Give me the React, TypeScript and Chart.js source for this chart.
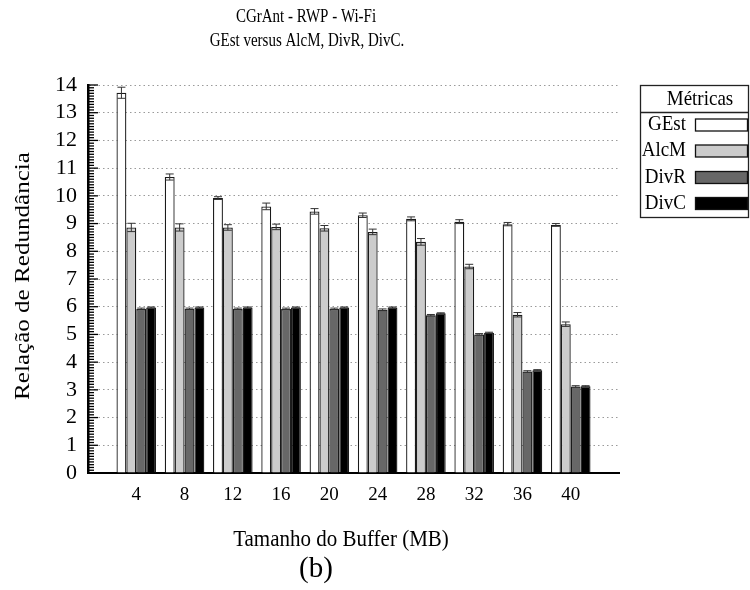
import { useEffect, useRef } from 'react';
import { Chart, registerables } from 'chart.js';

Chart.register(...registerables);

// Buffer sizes (MB) on the x axis
const bufferSizes = [4, 8, 12, 16, 20, 24, 28, 32, 36, 40];

// Mean redundancy ratio per metric, with half-width of the error bar
const gestValues = [13.72, 10.68, 9.92, 9.62, 9.44, 9.3, 9.17, 9.07, 8.98, 8.95];
const gestErrors = [0.2, 0.11, 0.05, 0.12, 0.1, 0.08, 0.07, 0.07, 0.06, 0.05];
const alcmValues = [8.86, 8.86, 8.86, 8.88, 8.83, 8.7, 8.34, 7.45, 5.71, 5.37];
const alcmErrors = [0.15, 0.13, 0.1, 0.1, 0.1, 0.1, 0.12, 0.08, 0.08, 0.08];
const divrValues = [5.92, 5.92, 5.92, 5.92, 5.92, 5.89, 5.69, 5.0, 3.66, 3.12];
const divrErrors = [0.03, 0.03, 0.03, 0.03, 0.03, 0.03, 0.03, 0.03, 0.03, 0.03];
const divcValues = [5.97, 5.97, 5.97, 5.97, 5.97, 5.97, 5.76, 5.06, 3.71, 3.13];
const divcErrors = [0.02, 0.02, 0.02, 0.02, 0.02, 0.02, 0.02, 0.02, 0.02, 0.02];

const yTickValues = [0, 1, 2, 3, 4, 5, 6, 7, 8, 9, 10, 11, 12, 13, 14];

const titleLines = ['CGrAnt - RWP - Wi-Fi', 'GEst versus AlcM, DivR, DivC.'];
const xTitle = 'Tamanho do Buffer (MB)';
const yTitle = 'Relação de Redundância';
const captionText = '(b)';
const legendTitle = 'Métricas';

const FONT = '"Liberation Serif", "Times New Roman", serif';

type TextOpts = {
  size: number;
  align?: CanvasTextAlign;
  rot?: number;
  sx?: number;
  sy?: number;
  font?: string;
};

function drawText(ctx: CanvasRenderingContext2D, text: string, x: number, y: number, o: TextOpts) {
  ctx.save();
  ctx.translate(x, y);
  if (o.rot) ctx.rotate(o.rot);
  ctx.scale(o.sx ?? 1, o.sy ?? 1);
  ctx.font = `${o.size}px ${o.font ?? FONT}`;
  ctx.fillStyle = '#000';
  ctx.textAlign = o.align ?? 'center';
  ctx.textBaseline = 'middle';
  ctx.fillText(text, 0, 0);
  ctx.restore();
}

// Error bars, inner y-axis tick ladder, titles and the boxed legend
const decorations = {
  id: 'decorations',
  afterDatasetsDraw(chart: any) {
    const ctx: CanvasRenderingContext2D = chart.ctx;
    const yScale = chart.scales.y;
    ctx.save();
    ctx.strokeStyle = '#333';
    ctx.lineWidth = 1;
    chart.data.datasets.forEach((ds: any, di: number) => {
      const meta = chart.getDatasetMeta(di);
      meta.data.forEach((bar: any, i: number) => {
        const v = ds.data[i].y;
        const e = ds.errors[i];
        const x = bar.x;
        const yt = yScale.getPixelForValue(v + e);
        const yb = yScale.getPixelForValue(v - e);
        const cap = 4;
        ctx.beginPath();
        ctx.moveTo(x, yt);
        ctx.lineTo(x, yb);
        ctx.moveTo(x - cap, yt);
        ctx.lineTo(x + cap, yt);
        ctx.moveTo(x - cap, yb);
        ctx.lineTo(x + cap, yb);
        ctx.stroke();
      });
    });
    ctx.restore();
  },
  afterDraw(chart: any) {
    const ctx: CanvasRenderingContext2D = chart.ctx;
    const { left } = chart.chartArea;
    const yScale = chart.scales.y;

    // tick ladder drawn inward from the y axis
    ctx.save();
    ctx.strokeStyle = '#000';
    ctx.lineWidth = 1.3;
    for (let k = 0; k <= 140; k++) {
      const v = k / 10;
      const py = yScale.getPixelForValue(v);
      const len = k % 10 === 0 ? 10 : 6;
      ctx.beginPath();
      ctx.moveTo(left, py);
      ctx.lineTo(left + len, py);
      ctx.stroke();
    }
    ctx.restore();

    // titles
    drawText(ctx, titleLines[0], 306, 17, { size: 15, sy: 1.2 });
    drawText(ctx, titleLines[1], 307, 41, { size: 15, sy: 1.2 });
    drawText(ctx, xTitle, 341, 540, { size: 21, sy: 1.08 });
    drawText(ctx, captionText, 316, 569, { size: 29 });
    drawText(ctx, yTitle, 23, 276, { size: 22, rot: -Math.PI / 2, sx: 1.14 });

    // legend box
    const bx = 640.5;
    const by = 85.5;
    const bw = 108;
    const bh = 132;
    ctx.save();
    ctx.strokeStyle = '#222';
    ctx.lineWidth = 1.3;
    ctx.strokeRect(bx, by, bw, bh);
    ctx.beginPath();
    ctx.moveTo(bx, 112.5);
    ctx.lineTo(bx + bw, 112.5);
    ctx.stroke();
    ctx.restore();
    drawText(ctx, legendTitle, 700, 100, { size: 19, sy: 1.1 });
    const rows = [125, 151, 177.5, 203.5];
    chart.data.datasets.forEach((ds: any, di: number) => {
      const cy = rows[di];
      drawText(ctx, ds.label, 686, cy, { size: 19, align: 'right', sy: 1.1 });
      ctx.save();
      ctx.fillStyle = ds.backgroundColor;
      ctx.strokeStyle = '#111';
      ctx.lineWidth = 1.3;
      ctx.fillRect(695.5, cy - 6, 52, 12);
      ctx.strokeRect(695.5, cy - 6, 52, 12);
      ctx.restore();
    });
  },
};

function toPoints(values: number[]) {
  return bufferSizes.map((x, i) => ({ x, y: values[i] }));
}

export default function App() {
  const canvasRef = useRef<HTMLCanvasElement | null>(null);

  useEffect(() => {
    const canvas = canvasRef.current;
    if (!canvas) return;
    const series = [
      { label: 'GEst', values: gestValues, errors: gestErrors, fill: '#ffffff' },
      { label: 'AlcM', values: alcmValues, errors: alcmErrors, fill: '#cccccc' },
      { label: 'DivR', values: divrValues, errors: divrErrors, fill: '#676767' },
      { label: 'DivC', values: divcValues, errors: divcErrors, fill: '#000000' },
    ];
    const chart = new Chart(canvas, {
      type: 'bar',
      data: {
        datasets: series.map((s) => ({
          label: s.label,
          data: toPoints(s.values),
          errors: s.errors,
          backgroundColor: s.fill,
          borderColor: '#1a1a1a',
          borderWidth: 1.3,
          categoryPercentage: 0.82,
          barPercentage: 1,
        })) as any,
      },
      options: {
        responsive: false,
        animation: false,
        layout: { padding: { left: 0, top: 85, right: 131, bottom: 0 } },
        plugins: {
          legend: { display: false },
          title: { display: false },
          tooltip: { enabled: false },
        },
        scales: {
          x: {
            type: 'linear',
            min: 0,
            max: 44,
            offset: false,
            afterBuildTicks: (axis: any) => {
              axis.ticks = bufferSizes.map((v) => ({ value: v }));
            },
            afterFit: (axis: any) => {
              axis.height = 117;
            },
            ticks: {
              autoSkip: false,
              maxRotation: 0,
              color: '#000',
              padding: 11,
              font: { family: FONT, size: 19 },
            },
            grid: { display: false, drawTicks: false },
            border: { display: true, color: '#000', width: 2 },
          },
          y: {
            min: 0,
            max: 14,
            afterBuildTicks: (axis: any) => {
              axis.ticks = yTickValues.map((v) => ({ value: v }));
            },
            afterFit: (axis: any) => {
              axis.width = 88;
            },
            ticks: {
              autoSkip: false,
              color: '#000',
              padding: 11,
              font: { family: FONT, size: 22 },
            },
            grid: { color: '#9a9a9a', lineWidth: 1, drawTicks: false },
            border: { display: true, color: '#000', width: 2.5, dash: [1.5, 3] },
          },
        },
      } as any,
      plugins: [decorations],
    });
    return () => chart.destroy();
  }, []);

  return (
    <div style={{ position: 'absolute', left: 0, top: 0 }}>
      <canvas ref={canvasRef} width={750} height={590} style={{ width: 750, height: 590 }} />
    </div>
  );
}
